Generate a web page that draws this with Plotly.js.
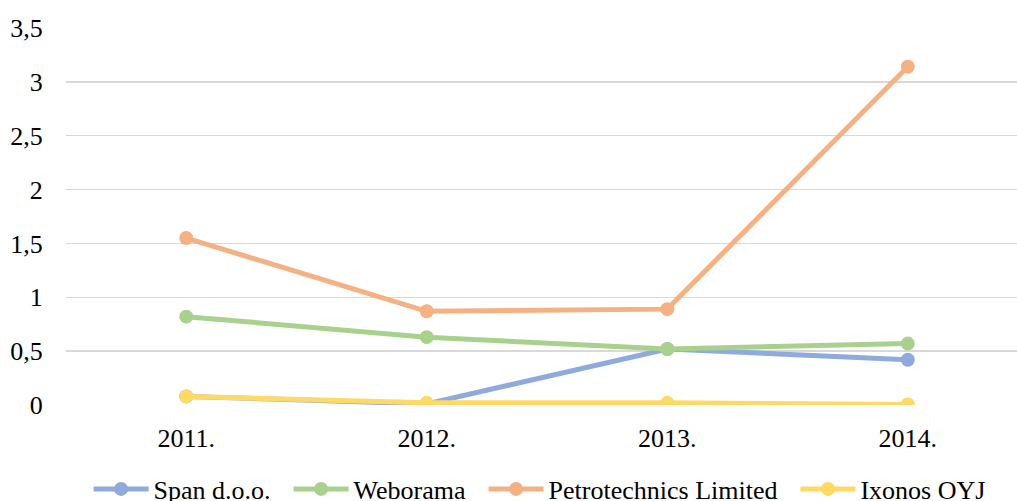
<!DOCTYPE html>
<html>
<head>
<meta charset="utf-8">
<script src="https://cdn.plot.ly/plotly-3.0.1.min.js"></script>
<style>html,body{margin:0;padding:0;background:#fff;}#chart{width:1017px;height:501px;}</style>
</head>
<body>
<div id="chart"></div>
<script>
const years = ["2011.", "2012.", "2013.", "2014."];
const span = [0.08, 0.01, 0.52, 0.42];
const weborama = [0.82, 0.63, 0.52, 0.57];
const petrotechnics = [1.55, 0.87, 0.89, 3.14];
const ixonos = [0.08, 0.02, 0.02, 0.005];
const yTicks = [0, 0.5, 1, 1.5, 2, 2.5, 3, 3.5];
const yTickText = ["0", "0,5", "1", "1,5", "2", "2,5", "3", "3,5"];
const seriesNames = ["Span d.o.o.", "Weborama", "Petrotechnics Limited", "Ixonos OYJ"];
const seriesColors = ["#8FAADC", "#A9D18E", "#F4B183", "#FFD966"];
const seriesValues = [span, weborama, petrotechnics, ixonos];

const PAD = "\u00A0\u00A0";
const traces = seriesValues.map((vals, i) => ({
  type: "scatter",
  mode: "lines+markers",
  x: years,
  y: vals,
  name: seriesNames[i] + (i < seriesNames.length - 1 ? PAD : ""),
  line: {color: seriesColors[i], width: 5},
  marker: {color: seriesColors[i], size: 14}
}));

const FAM = "Liberation Serif";
function mkFont(sz) { return {family: FAM, size: sz, color: "#000"}; }

const layout = {
  width: 1017,
  height: 501,
  margin: {l: 66, r: 0, t: 28, b: 96},
  paper_bgcolor: "#fff",
  plot_bgcolor: "#fff",
  separators: ", ",
  font: mkFont(26),
  showlegend: true,
  xaxis: {
    type: "category",
    range: [-0.5, 3.454],
    showgrid: false,
    zeroline: false,
    showline: false,
    ticks: "outside",
    ticklen: 10,
    tickcolor: "rgba(0,0,0,0)",
    tickfont: mkFont(26)
  },
  yaxis: {
    range: [0, 3.5],
    tickmode: "array",
    tickvals: yTicks,
    ticktext: yTickText,
    showgrid: true,
    gridcolor: "#D9D9D9",
    gridwidth: 1.3,
    zeroline: false,
    showline: false,
    ticks: "outside",
    ticklen: 17,
    tickcolor: "rgba(0,0,0,0)",
    tickfont: mkFont(26)
  },
  legend: {
    orientation: "h",
    x: 0.498,
    xanchor: "center",
    yref: "container",
    y: 0.024,
    yanchor: "middle",
    font: mkFont(26),
    itemwidth: 55,
    traceorder: "normal",
    bgcolor: "rgba(0,0,0,0)"
  }
};

Plotly.newPlot("chart", traces, layout, {staticPlot: true, displayModeBar: false});
</script>
</body>
</html>
